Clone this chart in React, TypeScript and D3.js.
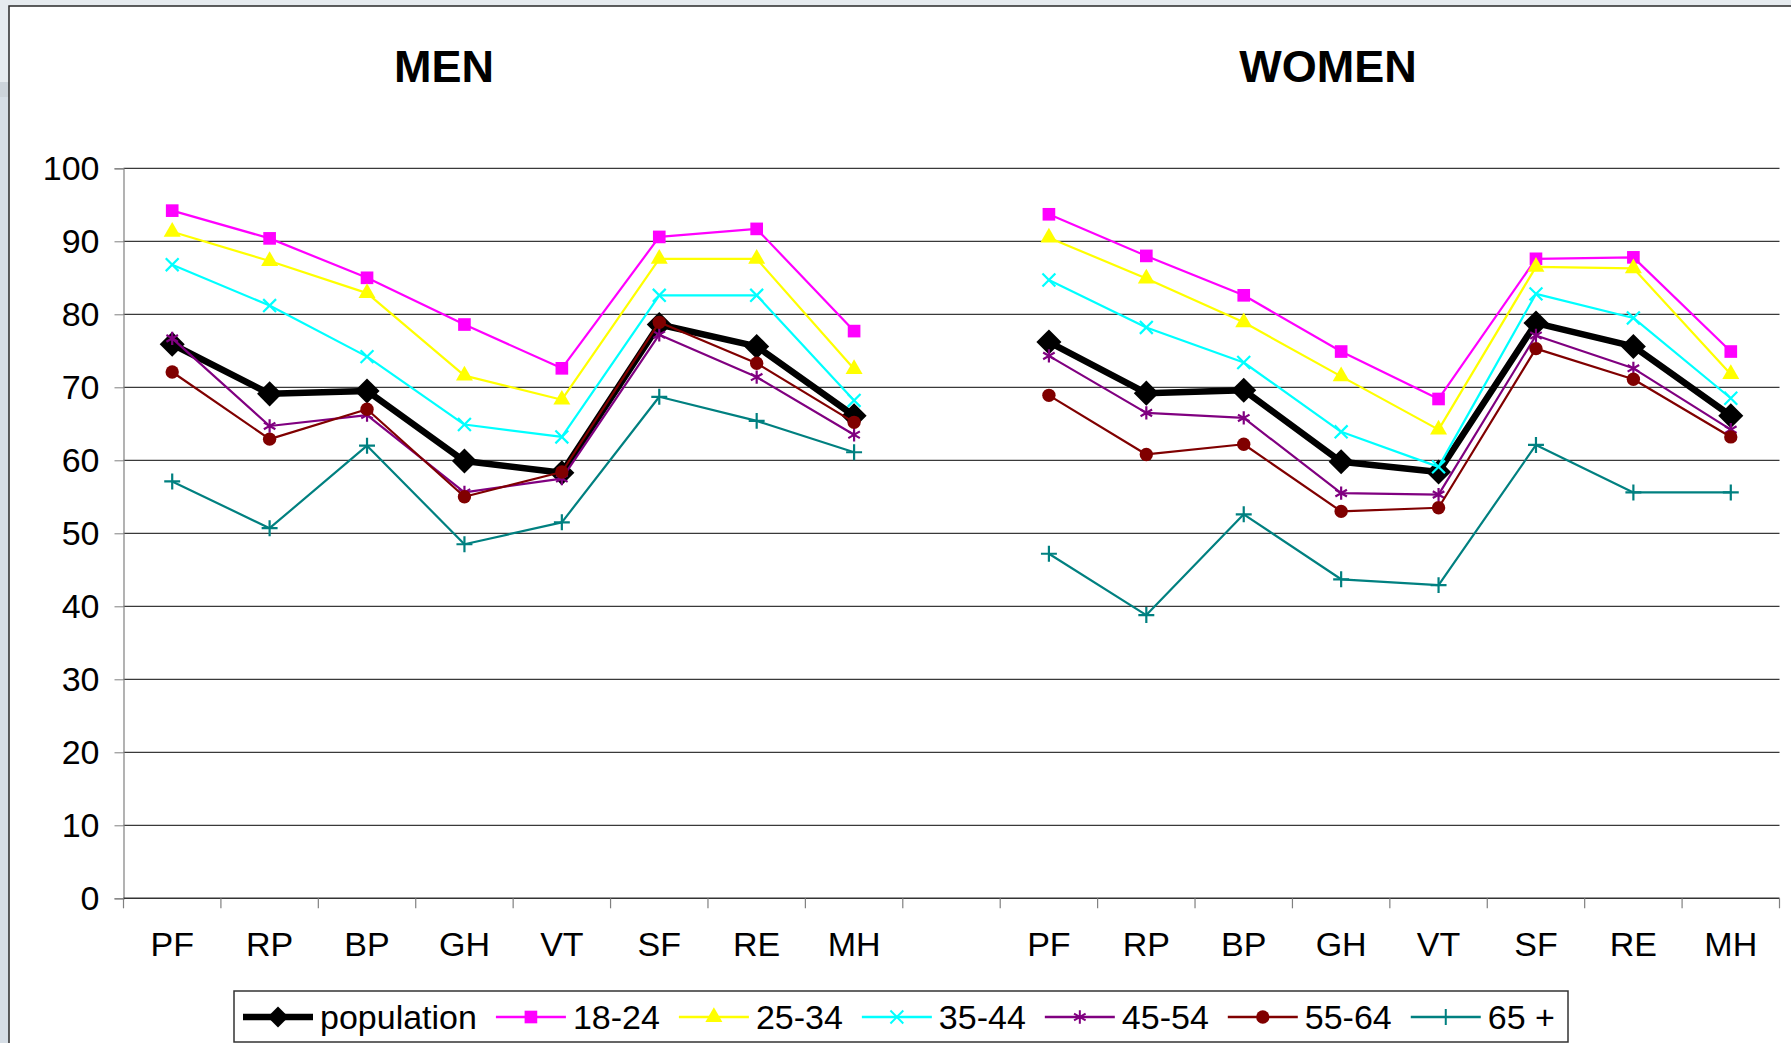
import * as d3 from 'd3';
import { useEffect, useRef } from 'react';

const categories = ['PF', 'RP', 'BP', 'GH', 'VT', 'SF', 'RE', 'MH'];
const yTicks = [0, 10, 20, 30, 40, 50, 60, 70, 80, 90, 100];
const seriesNames = ['population', '18-24', '25-34', '35-44', '45-54', '55-64', '65 +'];

// MEN
const menPopulation = [75.9, 69.1, 69.5, 59.9, 58.3, 78.6, 75.6, 66.1];
const men1824 = [94.2, 90.4, 85.0, 78.6, 72.6, 90.6, 91.7, 77.7];
const men2534 = [91.3, 87.3, 82.9, 71.6, 68.3, 87.6, 87.6, 72.5];
const men3544 = [86.8, 81.2, 74.2, 64.9, 63.2, 82.6, 82.6, 68.2];
const men4554 = [76.7, 64.7, 66.2, 55.6, 57.5, 77.2, 71.4, 63.5];
const men5564 = [72.1, 62.9, 67.0, 55.0, 58.4, 78.9, 73.3, 65.2];
const men65 = [57.1, 50.7, 62.0, 48.5, 51.5, 68.7, 65.4, 61.1];

// WOMEN
const womenPopulation = [76.2, 69.2, 69.6, 59.8, 58.4, 78.8, 75.6, 66.1];
const women1824 = [93.7, 88.0, 82.6, 74.9, 68.4, 87.6, 87.8, 74.9];
const women2534 = [90.5, 84.9, 78.9, 71.5, 64.2, 86.5, 86.3, 71.8];
const women3544 = [84.7, 78.2, 73.4, 63.9, 59.1, 82.8, 79.5, 68.5];
const women4554 = [74.3, 66.5, 65.8, 55.5, 55.3, 77.1, 72.6, 64.2];
const women5564 = [68.9, 60.8, 62.2, 53.0, 53.5, 75.3, 71.1, 63.2];
const women65 = [47.2, 38.8, 52.6, 43.7, 42.9, 62.1, 55.6, 55.6];

const menSeries = [menPopulation, men1824, men2534, men3544, men4554, men5564, men65];
const womenSeries = [womenPopulation, women1824, women2534, women3544, women4554, women5564, women65];

const styles = [
  { color: '#000000', width: 6.5, symbol: d3.symbolDiamond2, size: 400, fill: true },
  { color: '#FF00FF', width: 2.2, symbol: d3.symbolSquare, size: 160, fill: true },
  { color: '#FFFF00', width: 2.2, symbol: d3.symbolTriangle, size: 125, fill: true },
  { color: '#00FFFF', width: 2.2, symbol: d3.symbolTimes, size: 110, fill: false },
  { color: '#800080', width: 2.2, symbol: d3.symbolAsterisk, size: 125, fill: false },
  { color: '#800000', width: 2.2, symbol: d3.symbolCircle, size: 140, fill: true },
  { color: '#008080', width: 2.2, symbol: d3.symbolPlus, size: 85, fill: false },
];

const W = 1791;
const H = 1043;
const FONT = 'Arial, "Liberation Sans", sans-serif';

function App() {
  const ref = useRef<SVGSVGElement>(null);

  useEffect(() => {
    const svg = d3.select(ref.current);
    svg.selectAll('*').remove();

    // slide background + chart frame
    svg.append('rect').attr('width', W).attr('height', H).attr('fill', '#d6dee6');
    svg.append('rect').attr('width', W).attr('height', 82).attr('fill', '#e6ebef');
    svg.append('rect').attr('y', 82).attr('width', W).attr('height', 15).attr('fill', '#cdd4db');
    svg.append('rect')
      .attr('x', 9).attr('y', 6)
      .attr('width', W).attr('height', H)
      .attr('fill', '#ffffff')
      .attr('stroke', '#2a2a2a')
      .attr('stroke-width', 1.5);

    const keys = [
      ...categories.map((c) => `M-${c}`),
      'gap',
      ...categories.map((c) => `W-${c}`),
    ];
    const x = d3.scaleBand().domain(keys).range([123.5, 1779.5]).paddingInner(0).paddingOuter(0);
    const y = d3.scaleLinear().domain([0, 100]).range([898.3, 168.3]);

    // titles
    svg.append('text')
      .attr('x', 444).attr('y', 82)
      .attr('text-anchor', 'middle')
      .attr('font-family', FONT).attr('font-weight', 'bold').attr('font-size', 45)
      .text('MEN');
    svg.append('text')
      .attr('x', 1328).attr('y', 82)
      .attr('text-anchor', 'middle')
      .attr('font-family', FONT).attr('font-weight', 'bold').attr('font-size', 45)
      .text('WOMEN');

    // gridlines
    svg.append('g')
      .selectAll('line')
      .data(yTicks.filter((t) => t > 0))
      .enter()
      .append('line')
      .attr('x1', x.range()[0]).attr('x2', x.range()[1])
      .attr('y1', (d) => y(d)).attr('y2', (d) => y(d))
      .attr('stroke', '#3a3a3a')
      .attr('stroke-width', 1.3);

    // y axis
    const yAxis = svg.append('g')
      .attr('transform', `translate(${x.range()[0]},0)`)
      .call(d3.axisLeft(y).tickValues(yTicks).tickSize(9).tickPadding(15));
    yAxis.select('.domain').attr('stroke', '#808080').attr('stroke-width', 1.2);
    yAxis.selectAll('.tick line').attr('stroke', '#808080');
    yAxis.selectAll('.tick text')
      .attr('font-family', FONT).attr('font-size', 34).attr('fill', '#000');

    // x axis
    const xAxisG = svg.append('g');
    xAxisG.append('line')
      .attr('x1', x.range()[0]).attr('x2', x.range()[1])
      .attr('y1', y(0)).attr('y2', y(0))
      .attr('stroke', '#333').attr('stroke-width', 1.5);
    const boundaries = [...keys.map((k) => x(k) as number), x.range()[1]];
    xAxisG.selectAll('line.tk')
      .data(boundaries)
      .enter()
      .append('line')
      .attr('class', 'tk')
      .attr('x1', (d) => d).attr('x2', (d) => d)
      .attr('y1', y(0)).attr('y2', y(0) + 10)
      .attr('stroke', '#808080').attr('stroke-width', 1.2);
    xAxisG.selectAll('text')
      .data(keys.filter((k) => k !== 'gap'))
      .enter()
      .append('text')
      .attr('x', (d) => (x(d) as number) + x.bandwidth() / 2)
      .attr('y', 956)
      .attr('text-anchor', 'middle')
      .attr('font-family', FONT).attr('font-size', 34)
      .text((d) => d.slice(2));

    const cx = (prefix: string) => (_: number, i: number) => (x(`${prefix}-${categories[i]}`) as number) + x.bandwidth() / 2;

    const drawGroup = (prefix: string, group: number[][]) => {
      group.forEach((vals, si) => {
        const st = styles[si];
        const line = d3.line<number>().x(cx(prefix)).y((d) => y(d));
        const g = svg.append('g');
        g.append('path')
          .datum(vals)
          .attr('d', line)
          .attr('fill', 'none')
          .attr('stroke', st.color)
          .attr('stroke-width', st.width)
          .attr('stroke-linejoin', 'round');
        const sym = d3.symbol().type(st.symbol).size(st.size);
        g.selectAll('path.m')
          .data(vals)
          .enter()
          .append('path')
          .attr('class', 'm')
          .attr('transform', (d, i) => `translate(${cx(prefix)(d, i)},${y(d)})`)
          .attr('d', sym)
          .attr('fill', st.fill ? st.color : 'none')
          .attr('stroke', st.color)
          .attr('stroke-width', st.fill ? 0 : 2.2);
      });
    };
    drawGroup('M', menSeries);
    drawGroup('W', womenSeries);

    // legend
    const legend = svg.append('g');
    legend.append('rect')
      .attr('x', 234).attr('y', 991)
      .attr('width', 1334).attr('height', 51)
      .attr('fill', '#fff')
      .attr('stroke', '#333').attr('stroke-width', 1.5);
    let lx = 243;
    const ly = 1017;
    seriesNames.forEach((name, si) => {
      const st = styles[si];
      legend.append('line')
        .attr('x1', lx).attr('x2', lx + 70)
        .attr('y1', ly).attr('y2', ly)
        .attr('stroke', st.color)
        .attr('stroke-width', si === 0 ? 6.5 : 2.5);
      legend.append('path')
        .attr('transform', `translate(${lx + 35},${ly})`)
        .attr('d', d3.symbol().type(st.symbol).size(si === 0 ? 280 : st.size)())
        .attr('fill', st.fill ? st.color : 'none')
        .attr('stroke', st.color)
        .attr('stroke-width', st.fill ? 0 : 2);
      const t = legend.append('text')
        .attr('x', lx + 77).attr('y', ly + 12)
        .attr('font-family', FONT).attr('font-size', 34)
        .text(name);
      const tw = (t.node() as SVGTextElement).getComputedTextLength();
      lx = lx + 77 + tw + 19;
    });
  }, []);

  return (
    <svg
      ref={ref}
      width={W}
      height={H}
      style={{ position: 'absolute', left: 0, top: 0, display: 'block' }}
    />
  );
}

export default App;
